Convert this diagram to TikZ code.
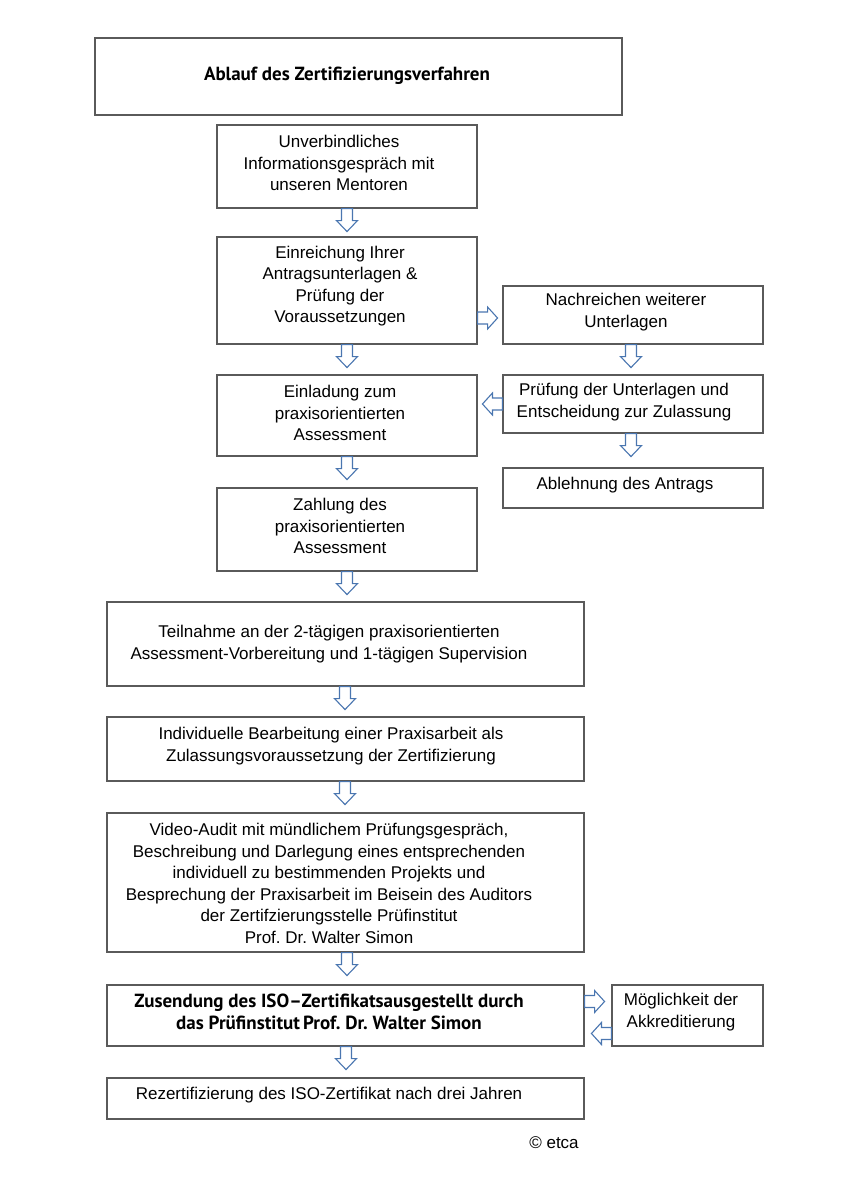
\documentclass[tikz,border=0pt]{standalone}
\usepackage{fontspec}
\setmainfont{Liberation Sans}
\newfontfamily\myriad{PT Sans}
\usetikzlibrary{calc}
\frenchspacing
\definecolor{boxc}{HTML}{5A5A5A}
\definecolor{arrc}{HTML}{4A76B0}
\tikzset{
  box/.style={draw=boxc, line width=1.1pt, fill=white, inner sep=0pt},
  txt/.style={align=center, inner sep=0pt, font=\fontsize{17}{21.5}\selectfont},
  btxt/.style={align=center, inner sep=0pt, font=\myriad\bfseries\fontsize{19}{22}\selectfont},
  arr/.style={draw=arrc, line width=1.1pt, fill=white, line join=miter},
  arrowdn/.pic={\draw[arr] (-5.5,0) -- (5.5,0) -- (5.5,12) -- (10.5,12) -- (0,23) -- (-10.5,12) -- (-5.5,12) -- cycle;},
  arrowrt/.pic={\draw[arr] (0,-6) -- (10,-6) -- (10,-11) -- (20,0) -- (10,11) -- (10,6) -- (0,6) -- cycle;},
  arrowlt/.pic={\draw[arr] (0,-6) -- (-10,-6) -- (-10,-11) -- (-20,0) -- (-10,11) -- (-10,6) -- (0,6) -- cycle;},
}
\begin{document}
\begin{tikzpicture}[x=1pt,y=-1pt]
\useasboundingbox (0,0) rectangle (849,1200);
% title
\node[box, minimum width=527pt, minimum height=77pt] (title) at (358.5,76.5) {};
\node[btxt] (titletxt) at (347,76) {Ablauf des Zertifizierungsverfahren};
% left column
\node[box, minimum width=260pt, minimum height=83pt] (b1) at (347,166.5) {};
\node[txt] (t1) at (339,163) {Unverbindliches\\Informationsgespräch mit\\unseren Mentoren};
\node[box, minimum width=260pt, minimum height=107pt] (b2) at (347,290.5) {};
\node[txt] (t2) at (340,286) {Einreichung Ihrer\\Antragsunterlagen \&\\Prüfung der\\Voraussetzungen};
\node[box, minimum width=260pt, minimum height=81pt] (b3) at (347,415.5) {};
\node[txt] (t3) at (340,413) {Einladung zum\\praxisorientierten\\Assessment};
\node[box, minimum width=260pt, minimum height=83pt] (b4) at (347,529.5) {};
\node[txt] (t4) at (340,526) {Zahlung des\\praxisorientierten\\Assessment};
% right column
\node[box, minimum width=260pt, minimum height=58pt] (r1) at (633,315) {};
\node[txt] (tr1) at (626,312) {Nachreichen weiterer\\Unterlagen};
\node[box, minimum width=260pt, minimum height=58pt] (r2) at (633,404) {};
\node[txt] (tr2) at (624,402) {Prüfung der Unterlagen und\\Entscheidung zur Zulassung};
\node[box, minimum width=260pt, minimum height=40pt] (r3) at (633,488) {};
\node[txt] (tr3) at (625,485) {Ablehnung des Antrags};
% wide boxes
\node[box, minimum width=477pt, minimum height=84pt] (b5) at (345.5,644) {};
\node[txt] (t5) at (329,644) {Teilnahme an der 2-tägigen praxisorientierten\\Assessment-Vorbereitung und 1-tägigen Supervision};
\node[box, minimum width=477pt, minimum height=64pt] (b6) at (345.5,749) {};
\node[txt] (t6) at (331,746) {Individuelle Bearbeitung einer Praxisarbeit als\\Zulassungsvoraussetzung der Zertifizierung};
\node[box, minimum width=477pt, minimum height=139pt] (b7) at (345.5,882.5) {};
\node[txt] (t7) at (329,883.5) {Video-Audit mit mündlichem Prüfungsgespräch,\\Beschreibung und Darlegung eines entsprechenden\\individuell zu bestimmenden Projekts und\\Besprechung der Praxisarbeit im Beisein des Auditors\\der Zertifzierungsstelle Prüfinstitut\\Prof. Dr. Walter Simon};
\node[box, minimum width=477pt, minimum height=61pt] (b8) at (345.5,1015.5) {};
\node[btxt] (t8) at (329,1012) {Zusendung des ISO–Zertifikatsausgestellt durch\\das Prüfinstitut\,Prof. Dr. Walter Simon};
\node[box, minimum width=151pt, minimum height=61pt] (r8) at (687.5,1015.5) {};
\node[txt] (tr8) at (681,1012) {Möglichkeit der\\Akkreditierung};
\node[box, minimum width=477pt, minimum height=41pt] (b9) at (345.5,1098.5) {};
\node[txt] (t9) at (329,1095) {Rezertifizierung des ISO-Zertifikat nach drei Jahren};
\node[txt] (copy) at (554,1143) {© etca};
% connectors
\pic at (b1.south) {arrowdn};
\pic at (b2.south) {arrowdn};
\pic at (b3.south) {arrowdn};
\pic at (b4.south) {arrowdn};
\pic at ([xshift=-0.5pt]b5.south) {arrowdn};
\pic at ([xshift=-0.5pt]b6.south) {arrowdn};
\pic at ([xshift=1.5pt]b7.south) {arrowdn};
\pic at ([xshift=0.5pt]b8.south) {arrowdn};
\pic at ([xshift=-2pt]r1.south) {arrowdn};
\pic at ([xshift=-2pt]r2.south) {arrowdn};
\pic at (b2.east |- 0,318) {arrowrt};
\pic at (r2.west) {arrowlt};
\pic at (b8.east |- 0,1001.5) {arrowrt};
\pic at (r8.west |- 0,1033.5) {arrowlt};
\end{tikzpicture}
\end{document}
